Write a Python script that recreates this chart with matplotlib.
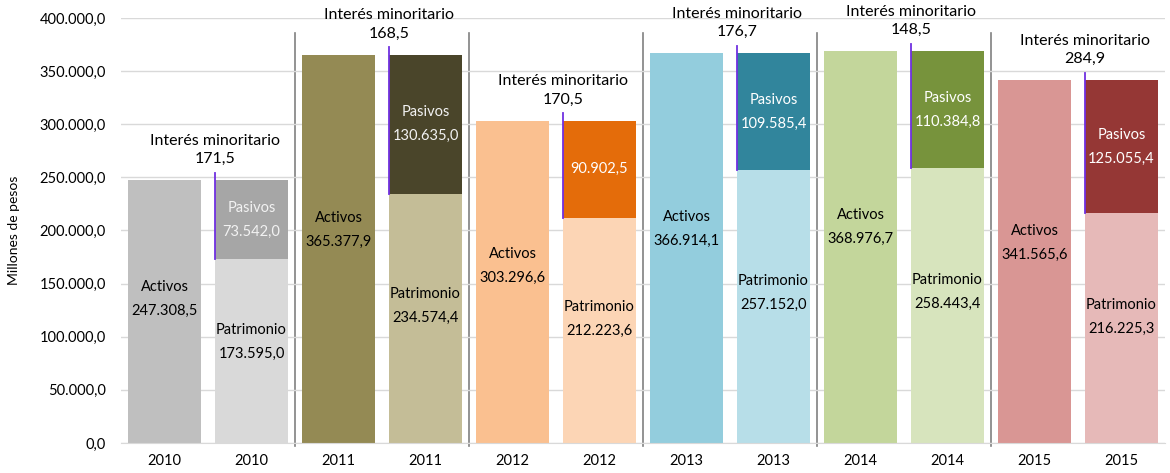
import numpy as np
import matplotlib
matplotlib.use("Agg")
import matplotlib.pyplot as plt
from matplotlib.ticker import FuncFormatter

plt.rcParams['font.family'] = ['Lato', 'DejaVu Sans']

years = ['2010', '2011', '2012', '2013', '2014', '2015']
activos = [247308.5, 365377.9, 303296.6, 366914.1, 368976.7, 341565.6]
patrimonio = [173595.0, 234574.4, 212223.6, 257152.0, 258443.4, 216225.3]
pasivos = [73542.0, 130635.0, 90902.5, 109585.4, 110384.8, 125055.4]
interes = [171.5, 168.5, 170.5, 176.7, 148.5, 284.9]

# colores por año: activos, patrimonio, pasivos
c_act = ['#bfbfbf', '#948a54', '#fac090', '#93cddd', '#c3d69b', '#d99694']
c_pat = ['#d9d9d9', '#c4bd97', '#fcd5b5', '#b7dee8', '#d7e4bd', '#e6b9b8']
c_pas = ['#a6a6a6', '#4a452a', '#e46c0a', '#31859c', '#77933c', '#953735']
t_pas = ['#f2f2f2', '#f2f2f2', 'white', 'white', 'white', 'white']


def fmt(v):
    s = f"{v:,.1f}"
    return s.replace(',', 'X').replace('.', ',').replace('X', '.')


fig = plt.figure(figsize=(11.7, 4.73), dpi=100)
ax = fig.add_axes([0.1034, 0.0634, 0.8923, 0.8986])

w = 0.84
for i, y in enumerate(years):
    xa = 2 * i
    xs = 2 * i + 1
    ax.bar(xa, activos[i], w, color=c_act[i], zorder=2)
    ax.bar(xs, patrimonio[i], w, color=c_pat[i], zorder=2)
    ax.bar(xs, pasivos[i], w, bottom=patrimonio[i], color=c_pas[i], zorder=2)
    top = patrimonio[i] + pasivos[i]
    ax.bar(xs, interes[i], w, bottom=top, color=c_pas[i], zorder=2)
    top += interes[i]

    # etiquetas
    ax.text(xa, activos[i] * 0.55, 'Activos\n' + fmt(activos[i]), ha='center',
            va='center', fontsize=10.5, linespacing=1.9, zorder=3)
    ax.text(xs, patrimonio[i] * 0.55, 'Patrimonio\n' + fmt(patrimonio[i]),
            ha='center', va='center', fontsize=10.5, linespacing=1.9, zorder=3)
    lbl = fmt(pasivos[i]) if i == 2 else 'Pasivos\n' + fmt(pasivos[i])
    ax.text(xs, patrimonio[i] + pasivos[i] / 2, lbl, ha='center', va='center',
            fontsize=10.5, linespacing=1.9, color=t_pas[i], zorder=3)

    xl = xs - w / 2
    ax.annotate('Interés minoritario\n' + fmt(interes[i]), xy=(xl, top),
                xytext=(0, 10), textcoords='offset points', ha='center',
                va='bottom', fontsize=11.5, linespacing=1.4, annotation_clip=False)
    ax.plot([xl, xl], [patrimonio[i], top + 7000], color='#7030e0', lw=1.3,
            zorder=4, clip_on=False)

    if i > 0:
        ax.plot([xa - 0.5, xa - 0.5], [-3000, 386000], color='#808080', lw=1.2,
                zorder=1, clip_on=False)

ax.set_xlim(-0.5, 11.5)
ax.set_ylim(0, 400000)
ax.set_yticks(np.arange(0, 400001, 50000))
ax.yaxis.set_major_formatter(FuncFormatter(lambda v, p: fmt(v)))
ax.set_xticks(range(12))
ax.set_xticklabels([y for y in years for _ in range(2)])
ax.grid(axis='y', color='#d9d9d9', lw=1, zorder=0)
for s in ['top', 'right', 'left']:
    ax.spines[s].set_visible(False)
ax.spines['bottom'].set_color('#d9d9d9')
ax.tick_params(axis='both', length=0, labelsize=10.5, pad=8)
ax.tick_params(axis='y', pad=11)
ax.set_ylabel('Millones de pesos', fontsize=10, labelpad=14)

fig.savefig('out.png', dpi=100)
